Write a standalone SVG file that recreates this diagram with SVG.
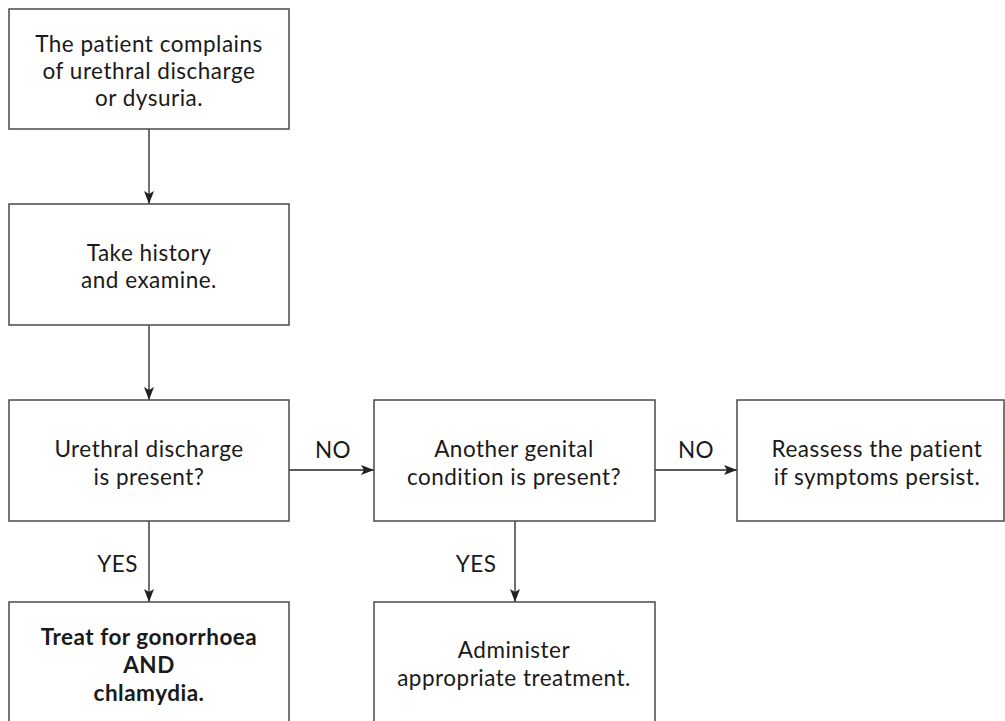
<svg xmlns="http://www.w3.org/2000/svg" width="1005" height="721" viewBox="0 0 1005 721">
<style>
.box{fill:#fff;stroke:#4a4a4a;stroke-width:1.5}
.t{font-family:Lato,"Open Sans","Liberation Sans",sans-serif;font-size:22.5px;letter-spacing:0.5px;fill:#1a1a1a;text-anchor:middle}
.b{font-weight:bold}
.c{stroke:#222;stroke-width:1.3;fill:none;marker-end:url(#ah)}
</style>
<defs>
<marker id="ah" markerWidth="14" markerHeight="10" refX="13" refY="5" orient="auto" markerUnits="userSpaceOnUse">
<path d="M0,0 L13,5 L0,10 L3,5 Z" fill="#222"/>
</marker>
</defs>
<rect width="1005" height="721" fill="#fff"/>
<g id="connectors">
<line class="c" x1="149" y1="129" x2="149" y2="204"/>
<line class="c" x1="149" y1="325" x2="149" y2="400"/>
<line class="c" x1="289" y1="470" x2="374" y2="470"/>
<line class="c" x1="655" y1="470" x2="737" y2="470"/>
<line class="c" x1="149" y1="521" x2="149" y2="602"/>
<line class="c" x1="515" y1="521" x2="515" y2="602"/>
<text class="t" x="333" y="458">NO</text>
<text class="t" x="696" y="458">NO</text>
<text class="t" x="117.5" y="572">YES</text>
<text class="t" x="476" y="572">YES</text>
</g>
<g id="n1">
<rect class="box" x="9" y="9" width="280" height="120"/>
<text class="t" x="149" y="52">The patient complains</text>
<text class="t" x="149" y="79">of urethral discharge</text>
<text class="t" x="149" y="106">or dysuria.</text>
</g>
<g id="n2">
<rect class="box" x="9" y="204" width="280" height="121"/>
<text class="t" x="149" y="261">Take history</text>
<text class="t" x="149" y="288">and examine.</text>
</g>
<g id="n3">
<rect class="box" x="9" y="400" width="280" height="121"/>
<text class="t" x="149" y="457">Urethral discharge</text>
<text class="t" x="149" y="485">is present?</text>
</g>
<g id="n4">
<rect class="box" x="374" y="400" width="281" height="121"/>
<text class="t" x="514" y="457">Another genital</text>
<text class="t" x="514" y="485">condition is present?</text>
</g>
<g id="n5">
<rect class="box" x="737" y="400" width="267" height="121"/>
<text class="t" x="877" y="457">Reassess the patient</text>
<text class="t" x="877" y="485">if symptoms persist.</text>
</g>
<g id="n6">
<rect class="box" x="9" y="602" width="280" height="130"/>
<text class="t b" x="149" y="645">Treat for gonorrhoea</text>
<text class="t b" x="149" y="673">AND</text>
<text class="t b" x="149" y="701">chlamydia.</text>
</g>
<g id="n7">
<rect class="box" x="374" y="602" width="281" height="130"/>
<text class="t" x="514" y="658">Administer</text>
<text class="t" x="514" y="686">appropriate treatment.</text>
</g>
</svg>
